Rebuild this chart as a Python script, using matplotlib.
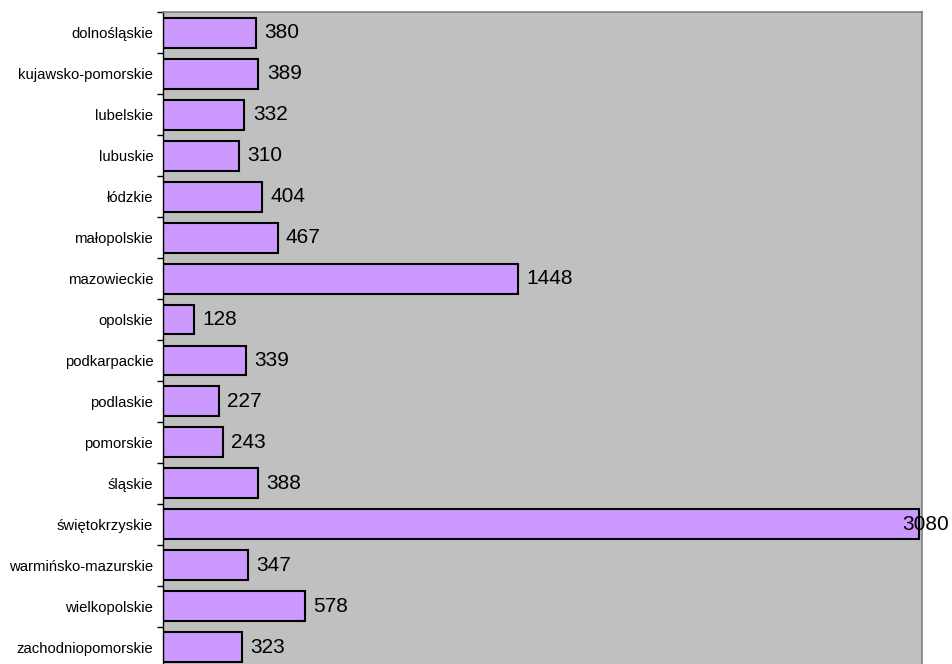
import matplotlib
matplotlib.use('Agg')
import matplotlib.pyplot as plt
import numpy as np

plt.rcParams['font.family'] = ['Liberation Sans', 'DejaVu Sans']

# voivodeships and their values
regions = ['dolnośląskie', 'kujawsko-pomorskie', 'lubelskie', 'lubuskie', 'łódzkie',
           'małopolskie', 'mazowieckie', 'opolskie', 'podkarpackie', 'podlaskie',
           'pomorskie', 'śląskie', 'świętokrzyskie', 'warmińsko-mazurskie',
           'wielkopolskie', 'zachodniopomorskie']
values = [380, 389, 332, 310, 404, 467, 1448, 128, 339, 227, 243, 388, 3080, 347, 578, 323]

fig = plt.figure(figsize=(9.53, 6.64), dpi=100)
ax = fig.add_axes([163 / 953, -3.5 / 664, 759 / 953, 655 / 664])
ax.set_facecolor('#C0C0C0')

pos = np.arange(len(regions))
bars = ax.barh(pos, values, height=0.73, color='#CC99FF', edgecolor='black', linewidth=1.5)

ax.set_xlim(0, 3092)
ax.set_ylim(len(regions) - 0.5, -0.5)

ax.set_yticks(pos)
ax.set_yticklabels(regions, fontsize=10.7)
ax.tick_params(axis='y', which='major', length=0, pad=7)
ax.set_yticks(np.arange(len(regions) + 1) - 0.5, minor=True)
ax.tick_params(axis='y', which='minor', length=4, width=1, direction='out')
ax.set_xticks([])

ax.spines['bottom'].set_visible(False)
for s in ['top', 'right']:
    ax.spines[s].set_color('#808080')
    ax.spines[s].set_linewidth(1.2)
ax.spines['left'].set_color('black')
ax.spines['left'].set_linewidth(1)

# value labels next to the bars, pulled back inside the figure if they overflow
fig.canvas.draw()
renderer = fig.canvas.get_renderer()
fig_w = fig.bbox.width
for b, v in zip(bars, values):
    t = ax.annotate(str(v), xy=(v, b.get_y() + b.get_height() / 2),
                    xytext=(6, 0), textcoords='offset points',
                    va='center', ha='left', fontsize=15)
    ext = t.get_window_extent(renderer)
    if ext.x1 > fig_w - 4:
        t.set_position((6 - (ext.x1 - (fig_w - 4)) * 72 / fig.dpi, 0))

fig.savefig('out.png', dpi=100)
